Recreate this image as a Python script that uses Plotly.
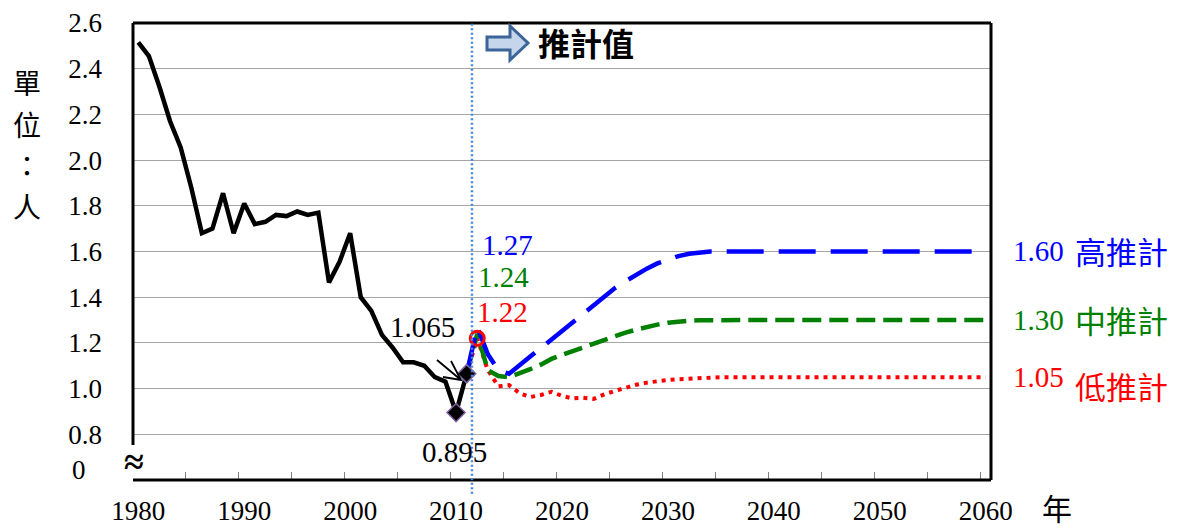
import plotly.graph_objects as go

# ---------------- data ----------------
hist_years = list(range(1980, 2012))
hist_tfr = [2.515, 2.455, 2.320, 2.170, 2.055, 1.880, 1.680, 1.700, 1.855, 1.680,
            1.810, 1.720, 1.730, 1.760, 1.755, 1.775, 1.760, 1.770, 1.465, 1.555,
            1.680, 1.400, 1.340, 1.235, 1.180, 1.115, 1.115, 1.100, 1.050, 1.030,
            0.895, 1.065]

proj_years = list(range(2011, 2061))
high_core = [1.065, 1.27, 1.15, 1.08, 1.065, 1.10, 1.14, 1.177, 1.215, 1.25,
             1.29, 1.325, 1.365, 1.405, 1.44, 1.47, 1.50, 1.525, 1.548, 1.565,
             1.58, 1.59, 1.595, 1.60]
mid_core = [1.065, 1.24, 1.08, 1.055, 1.05, 1.065, 1.085, 1.105, 1.13, 1.148,
            1.165, 1.18, 1.196, 1.212, 1.228, 1.245, 1.258, 1.27, 1.28, 1.288,
            1.294, 1.297, 1.299, 1.30]
low_core = [1.065, 1.22, 1.08, 1.01, 1.015, 0.98, 0.963, 0.972, 0.986, 0.968,
            0.957, 0.96, 0.955, 0.975, 0.99, 1.005, 1.017, 1.026, 1.033, 1.038,
            1.041, 1.044, 1.046, 1.05]
n_tail = len(proj_years) - len(high_core)
high = high_core + [1.60] * n_tail
mid = mid_core + [1.30] * n_tail
low = low_core + [1.05] * n_tail

y_tickvals = [0.8, 1.0, 1.2, 1.4, 1.6, 1.8, 2.0, 2.2, 2.4, 2.6]
y_ticktext = ["0.8", "1.0", "1.2", "1.4", "1.6", "1.8", "2.0", "2.2", "2.4", "2.6"]
x_tickvals = list(range(1980, 2061, 10))
x_ticktext = [str(v) for v in x_tickvals]
x_minor_ticks = [1979.5 + 5 * k for k in range(1, 17)]

# ---------------- layout geometry ----------------
W, H = 1179, 529
X0, X1, Y0, Y1 = 133, 991, 23, 480


def P(px, py):
    return (px - X0) / (X1 - X0), (Y1 - py) / (Y1 - Y0)


SERIF = "'Liberation Serif', 'Times New Roman', 'DejaVu Serif', serif"
TICKSERIF = "Liberation Serif"
CJK = "'Noto Sans CJK TC', 'Noto Sans CJK JP', sans-serif"

fig = go.Figure()

fig.add_trace(go.Scatter(x=proj_years, y=low, mode="lines",
                         line=dict(color="#FF0000", width=4, dash="4px,5px"),
                         hoverinfo="skip", showlegend=False))
fig.add_trace(go.Scatter(x=proj_years, y=mid, mode="lines",
                         line=dict(color="#008000", width=4.5, dash="19px,8px"),
                         hoverinfo="skip", showlegend=False))
fig.add_trace(go.Scatter(x=proj_years, y=high, mode="lines",
                         line=dict(color="#0000FF", width=4.5, dash="37px,15px"),
                         hoverinfo="skip", showlegend=False))
fig.add_trace(go.Scatter(x=hist_years, y=hist_tfr, mode="lines",
                         line=dict(color="#000000", width=4.5),
                         hoverinfo="skip", showlegend=False))
fig.add_trace(go.Scatter(x=hist_years[-2:], y=hist_tfr[-2:], mode="markers",
                         marker=dict(symbol="diamond", size=14, color="#000000",
                                     line=dict(color="#8064A2", width=1.5)),
                         hoverinfo="skip", showlegend=False))
fig.add_trace(go.Scatter(x=proj_years[1:2], y=low[1:2], mode="markers",
                         marker=dict(symbol="circle-open", size=14, color="#FF0000",
                                     line=dict(color="#FF0000", width=3)),
                         hoverinfo="skip", showlegend=False))
# dummy trace for the minor-tick overlay axis
fig.add_trace(go.Scatter(x=[], y=[], xaxis="x2", showlegend=False, hoverinfo="skip"))

shapes = []
line_k = dict(color="#000000", width=3)
shapes.append(dict(type="line", xref="paper", yref="paper", x0=0, x1=1, y0=1, y1=1, line=line_k))
shapes.append(dict(type="line", xref="paper", yref="paper", x0=1, x1=1, y0=0, y1=1, line=line_k))
shapes.append(dict(type="line", xref="paper", yref="paper", x0=0, x1=1, y0=0, y1=0, line=line_k))
shapes.append(dict(type="line", xref="paper", yref="y", x0=0, x1=0, y0=0.753, y1=2.6, line=line_k))
shapes.append(dict(type="line", xref="x", yref="paper", x0=2011.5, x1=2011.5, y0=-0.03, y1=1,
                   line=dict(color="#4A86D8", width=2.5, dash="2px,2.5px")))
pts = [(487, 37), (510, 37), (510, 26), (528, 43), (510, 60), (510, 50), (487, 50)]
pp = [P(a, b) for a, b in pts]
path = "M " + " L ".join(f"{a:.5f},{b:.5f}" for a, b in pp) + " Z"
shapes.append(dict(type="path", xref="paper", yref="paper", path=path,
                   fillcolor="#C5D6EC", line=dict(color="#3B6597", width=3)))
a1, a2, a3, a4 = P(437, 360), P(461, 380), P(451, 361), P(443, 377)
arrow_path = (f"M {a1[0]:.5f},{a1[1]:.5f} L {a2[0]:.5f},{a2[1]:.5f} "
              f"M {a3[0]:.5f},{a3[1]:.5f} L {a2[0]:.5f},{a2[1]:.5f} L {a4[0]:.5f},{a4[1]:.5f}")
shapes.append(dict(type="path", xref="paper", yref="paper", path=arrow_path,
                   line=dict(color="#000000", width=1.8)))

annotations = []


def ann(text, px, py, color="#000000", size=29, family=SERIF, xanchor="center", bold=False):
    x, y = P(px, py)
    annotations.append(dict(text=(f"<b>{text}</b>" if bold else text), x=x, y=y,
                            xref="paper", yref="paper", showarrow=False,
                            xanchor=xanchor, yanchor="middle",
                            font=dict(color=color, size=size, family=family)))


ann("1.27", 507, 245, "#0000FF")
ann("1.24", 503, 277, "#008000")
ann("1.22", 502, 312, "#FF0000")
ann("1.065", 422, 327)
ann("0.895", 454, 452)
ann("1.60", 1011, 251, "#0000FF", xanchor="left")
ann("高推計", 1073, 250, "#0000FF", size=31, family=CJK, xanchor="left")
ann("1.30", 1011, 320, "#008000", xanchor="left")
ann("中推計", 1073, 319, "#008000", size=31, family=CJK, xanchor="left")
ann("1.05", 1011, 377, "#FF0000", xanchor="left")
ann("低推計", 1073, 385, "#FF0000", size=31, family=CJK, xanchor="left")
ann("推計值", 586, 42, size=32, family=CJK, bold=True)
for ch, yy in zip(["單", "位", "：", "人"], [82, 124, 165, 206]):
    ann(ch, 27, yy, size=28, family=CJK)
ann("年", 1057, 507, size=30, family=CJK)
ann("0", 79, 470, size=27)
ann("<b>≈</b>", 134, 462, size=36)

fig.update_layout(
    width=W, height=H,
    margin=dict(l=X0, r=W - X1, t=Y0, b=H - Y1, pad=0, autoexpand=False),
    paper_bgcolor="white", plot_bgcolor="white",
    showlegend=False,
    font=dict(family=TICKSERIF, size=27, color="#000000"),
    xaxis=dict(range=[1979.5, 2060.5], tickvals=x_tickvals, ticktext=x_ticktext,
               ticks="", showgrid=False, zeroline=False, showline=False, automargin=False,
               ticklabelstandoff=12, tickfont=dict(family=TICKSERIF, size=27, color="#000000")),
    xaxis2=dict(range=[1979.5, 2060.5], overlaying="x", anchor="y", side="bottom",
                tickvals=x_minor_ticks, ticks="inside", ticklen=8, tickwidth=1,
                tickcolor="#808080", showticklabels=False, showgrid=False,
                zeroline=False, showline=False, automargin=False),
    yaxis=dict(range=[0.6, 2.6], tickvals=y_tickvals, ticktext=y_ticktext,
               ticks="", showgrid=True, gridcolor="#A6A6A6", gridwidth=1,
               zeroline=False, showline=False, ticklabelstandoff=30, automargin=False,
               tickfont=dict(family=TICKSERIF, size=27, color="#000000")),
    shapes=shapes,
    annotations=annotations,
)

fig.write_html("out.html", config={"displayModeBar": False},
               post_script="document.body.style.margin='0';")
